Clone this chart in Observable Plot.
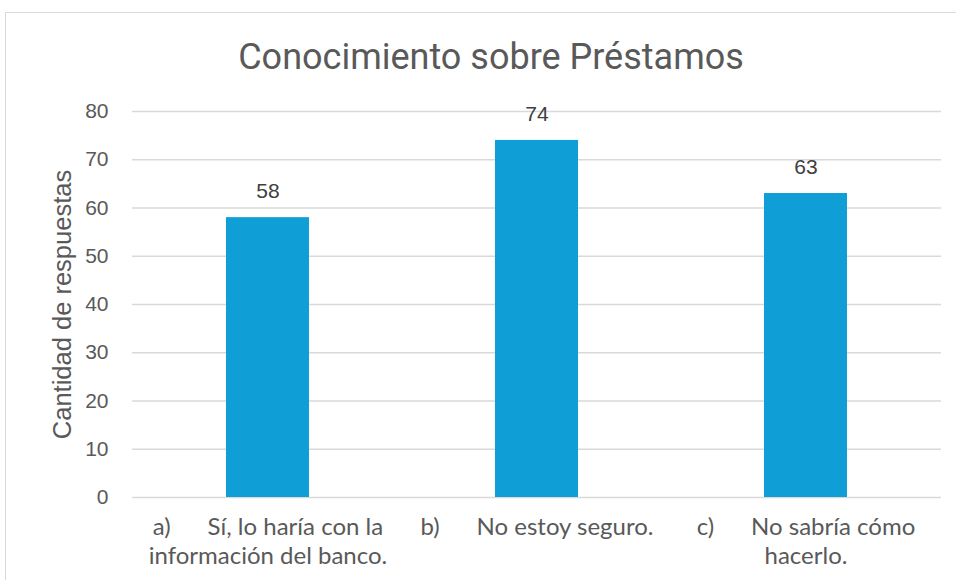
<!DOCTYPE html>
<html>
<head>
<meta charset="utf-8">
<script src="https://cdn.jsdelivr.net/npm/d3@7"></script>
<script src="https://cdn.jsdelivr.net/npm/@observablehq/plot@0.6"></script>
<style>
  html, body { margin: 0; padding: 0; background: #fff; }
  #wrap { position: relative; width: 956px; height: 580px; overflow: hidden; }
  #frame { position: absolute; left: 5px; top: 12px; width: 990px; height: 620px; border: 1px solid #d9d9d9; box-sizing: border-box; }
  #title { position: absolute; left: 0; top: 35px; width: 982px; text-align: center; font-family: Roboto, sans-serif; font-size: 36px; color: #595959; line-height: 44px; }
  #chart { position: absolute; left: 0; top: 0; }
</style>
</head>
<body>
<div id="wrap">
  <div id="frame"></div>
  <div id="title">Conocimiento sobre Préstamos</div>
  <div id="chart"></div>
</div>
<script>
const categories = [
  "a)\u00a0\u00a0\u00a0\u00a0\u00a0\u00a0Sí, lo haría con la\ninformación del banco.",
  "b)\u00a0\u00a0\u00a0\u00a0\u00a0\u00a0No estoy seguro.",
  "c)\u00a0\u00a0\u00a0\u00a0\u00a0\u00a0No sabría cómo\nhacerlo."
];
const values = [58, 74, 63];
const yTicks = [0, 10, 20, 30, 40, 50, 60, 70, 80];
const yLabel = "Cantidad de respuestas";

const data = categories.map((c, i) => ({category: c, value: values[i]}));

const chart = Plot.plot({
  width: 956,
  height: 580,
  marginLeft: 132,
  marginRight: 15,
  marginTop: 111,
  marginBottom: 83,
  style: {background: "transparent", fontFamily: "'Liberation Sans', Arial, sans-serif"},
  x: {domain: categories, paddingInner: 0.69, paddingOuter: 0.345, label: null},
  y: {domain: [0, 80], ticks: yTicks, label: null},
  marks: [
    Plot.gridY(yTicks, {stroke: "#d9d9d9", strokeOpacity: 1, strokeWidth: 1.5}),
    Plot.barY(data, {x: "category", y: "value", fill: "#0F9ED5"}),
    Plot.text(data, {x: "category", y: "value", text: d => String(d.value), dy: -26, fontSize: 21, fill: "#404040"}),
    Plot.axisY(yTicks, {tickSize: 0, tickPadding: 24, fontSize: 21, fill: "#595959"}),
    Plot.axisX({tickSize: 0, tickPadding: 17, fontSize: 24, lineHeight: 1.2, fill: "#595959", fontFamily: "Lato, sans-serif"}),
    Plot.text([yLabel], {frameAnchor: "left", textAnchor: "middle", rotate: -90, dx: -70, fontSize: 25.5, fill: "#595959"})
  ]
});
document.getElementById("chart").appendChild(chart);
</script>
</body>
</html>
